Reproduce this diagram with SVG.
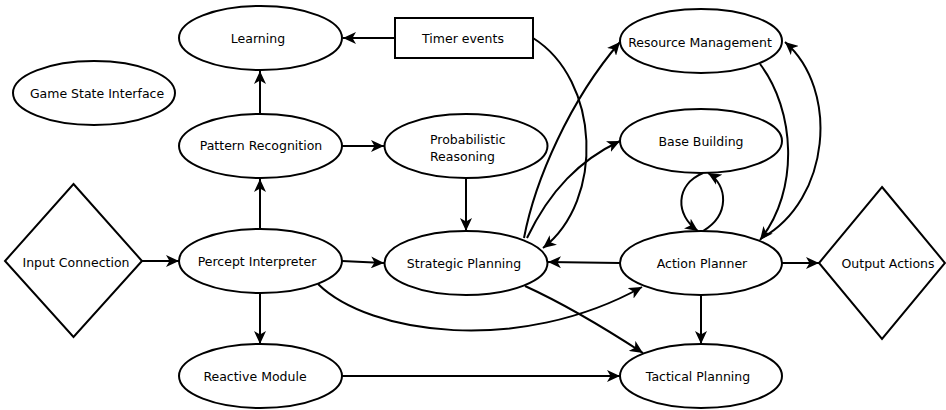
<svg xmlns="http://www.w3.org/2000/svg" width="946" height="410" viewBox="0 0 946 410">
  <style>
    .node { fill: #ffffff; stroke: #000000; stroke-width: 2; }
    .label { font-family: "DejaVu Sans", sans-serif; font-size: 12.5px; fill: #000000; text-anchor: middle; }
    .edge { fill: none; stroke: #000000; stroke-width: 2; marker-end: url(#arrow); }
  </style>
  <defs>
    <marker id="arrow" markerUnits="userSpaceOnUse" markerWidth="14" markerHeight="12" refX="13" refY="6" orient="auto">
      <path d="M0,0 L13,6 L0,12 L3.5,6 Z" fill="#000000"/>
    </marker>
  </defs>
  <rect width="946" height="410" fill="#ffffff"/>

  <!-- connectors -->
  <g id="edges">
    <line class="edge" x1="395" y1="38" x2="343" y2="38"/>
    <line class="edge" x1="260" y1="114" x2="260" y2="71"/>
    <line class="edge" x1="342" y1="146" x2="384" y2="146"/>
    <line class="edge" x1="260" y1="229" x2="260" y2="179"/>
    <line class="edge" x1="142" y1="261" x2="179" y2="261"/>
    <line class="edge" x1="342" y1="261" x2="384" y2="263"/>
    <line class="edge" x1="260" y1="293" x2="260" y2="344"/>
    <path class="edge" d="M318,284 C370,335 520,355 642,287"/>
    <line class="edge" x1="466" y1="178" x2="466" y2="231"/>
    <path class="edge" d="M533,38 C600,80 605,200 543,248"/>
    <path class="edge" d="M524,238 C535,180 570,100 620,42"/>
    <path class="edge" d="M527,238 C550,190 580,160 620,141"/>
    <line class="edge" x1="620" y1="263" x2="548" y2="262"/>
    <path class="edge" d="M525,286 C560,302 600,325 643,353"/>
    <line class="edge" x1="701" y1="295" x2="701" y2="344"/>
    <line class="edge" x1="342" y1="376" x2="620" y2="376"/>
    <line class="edge" x1="782" y1="263" x2="819" y2="263"/>
    <path class="edge" d="M760,64 C795,110 800,190 760,240"/>
    <path class="edge" d="M762,238 C830,200 840,90 785,42"/>
    <path class="edge" d="M703,231 C730,215 728,185 708,173"/>
    <path class="edge" d="M703,173 C675,185 675,215 698,231"/>
  </g>

  <g id="learning">
    <ellipse class="node" cx="260.5" cy="38" rx="81.5" ry="32"/>
    <text class="label" x="258" y="43">Learning</text>
  </g>
  <g id="game-state-interface">
    <ellipse class="node" cx="94" cy="93" rx="81" ry="32"/>
    <text class="label" x="97" y="98">Game State Interface</text>
  </g>
  <g id="timer-events">
    <rect class="node" x="395" y="18" width="138" height="40"/>
    <text class="label" x="463" y="43">Timer events</text>
  </g>
  <g id="resource-management">
    <ellipse class="node" cx="701" cy="41" rx="81" ry="32"/>
    <text class="label" x="700" y="47">Resource Management</text>
  </g>
  <g id="pattern-recognition">
    <ellipse class="node" cx="260.5" cy="146" rx="81.5" ry="32"/>
    <text class="label" x="261" y="150">Pattern Recognition</text>
  </g>
  <g id="probabilistic-reasoning">
    <ellipse class="node" cx="466" cy="146" rx="81.5" ry="32"/>
    <text class="label" x="430" y="144" style="text-anchor:start">Probabilistic</text>
    <text class="label" x="430" y="161" style="text-anchor:start">Reasoning</text>
  </g>
  <g id="base-building">
    <ellipse class="node" cx="701" cy="141" rx="81" ry="32"/>
    <text class="label" x="701" y="146">Base Building</text>
  </g>
  <g id="input-connection">
    <polygon class="node" points="73.5,184 142,261 73.5,337 5,261"/>
    <text class="label" x="76" y="267">Input Connection</text>
  </g>
  <g id="percept-interpreter">
    <ellipse class="node" cx="260.5" cy="261" rx="81.5" ry="32"/>
    <text class="label" x="257" y="266">Percept Interpreter</text>
  </g>
  <g id="strategic-planning">
    <ellipse class="node" cx="466" cy="263" rx="81.5" ry="32"/>
    <text class="label" x="464" y="268">Strategic Planning</text>
  </g>
  <g id="action-planner">
    <ellipse class="node" cx="701" cy="263" rx="81" ry="32"/>
    <text class="label" x="702" y="268">Action Planner</text>
  </g>
  <g id="output-actions">
    <polygon class="node" points="882,187 945,263 882,339 819,263"/>
    <text class="label" x="888" y="268">Output Actions</text>
  </g>
  <g id="reactive-module">
    <ellipse class="node" cx="260.5" cy="376" rx="81.5" ry="32"/>
    <text class="label" x="255" y="381">Reactive Module</text>
  </g>
  <g id="tactical-planning">
    <ellipse class="node" cx="701" cy="376" rx="81" ry="32"/>
    <text class="label" x="698" y="381">Tactical Planning</text>
  </g>
</svg>
